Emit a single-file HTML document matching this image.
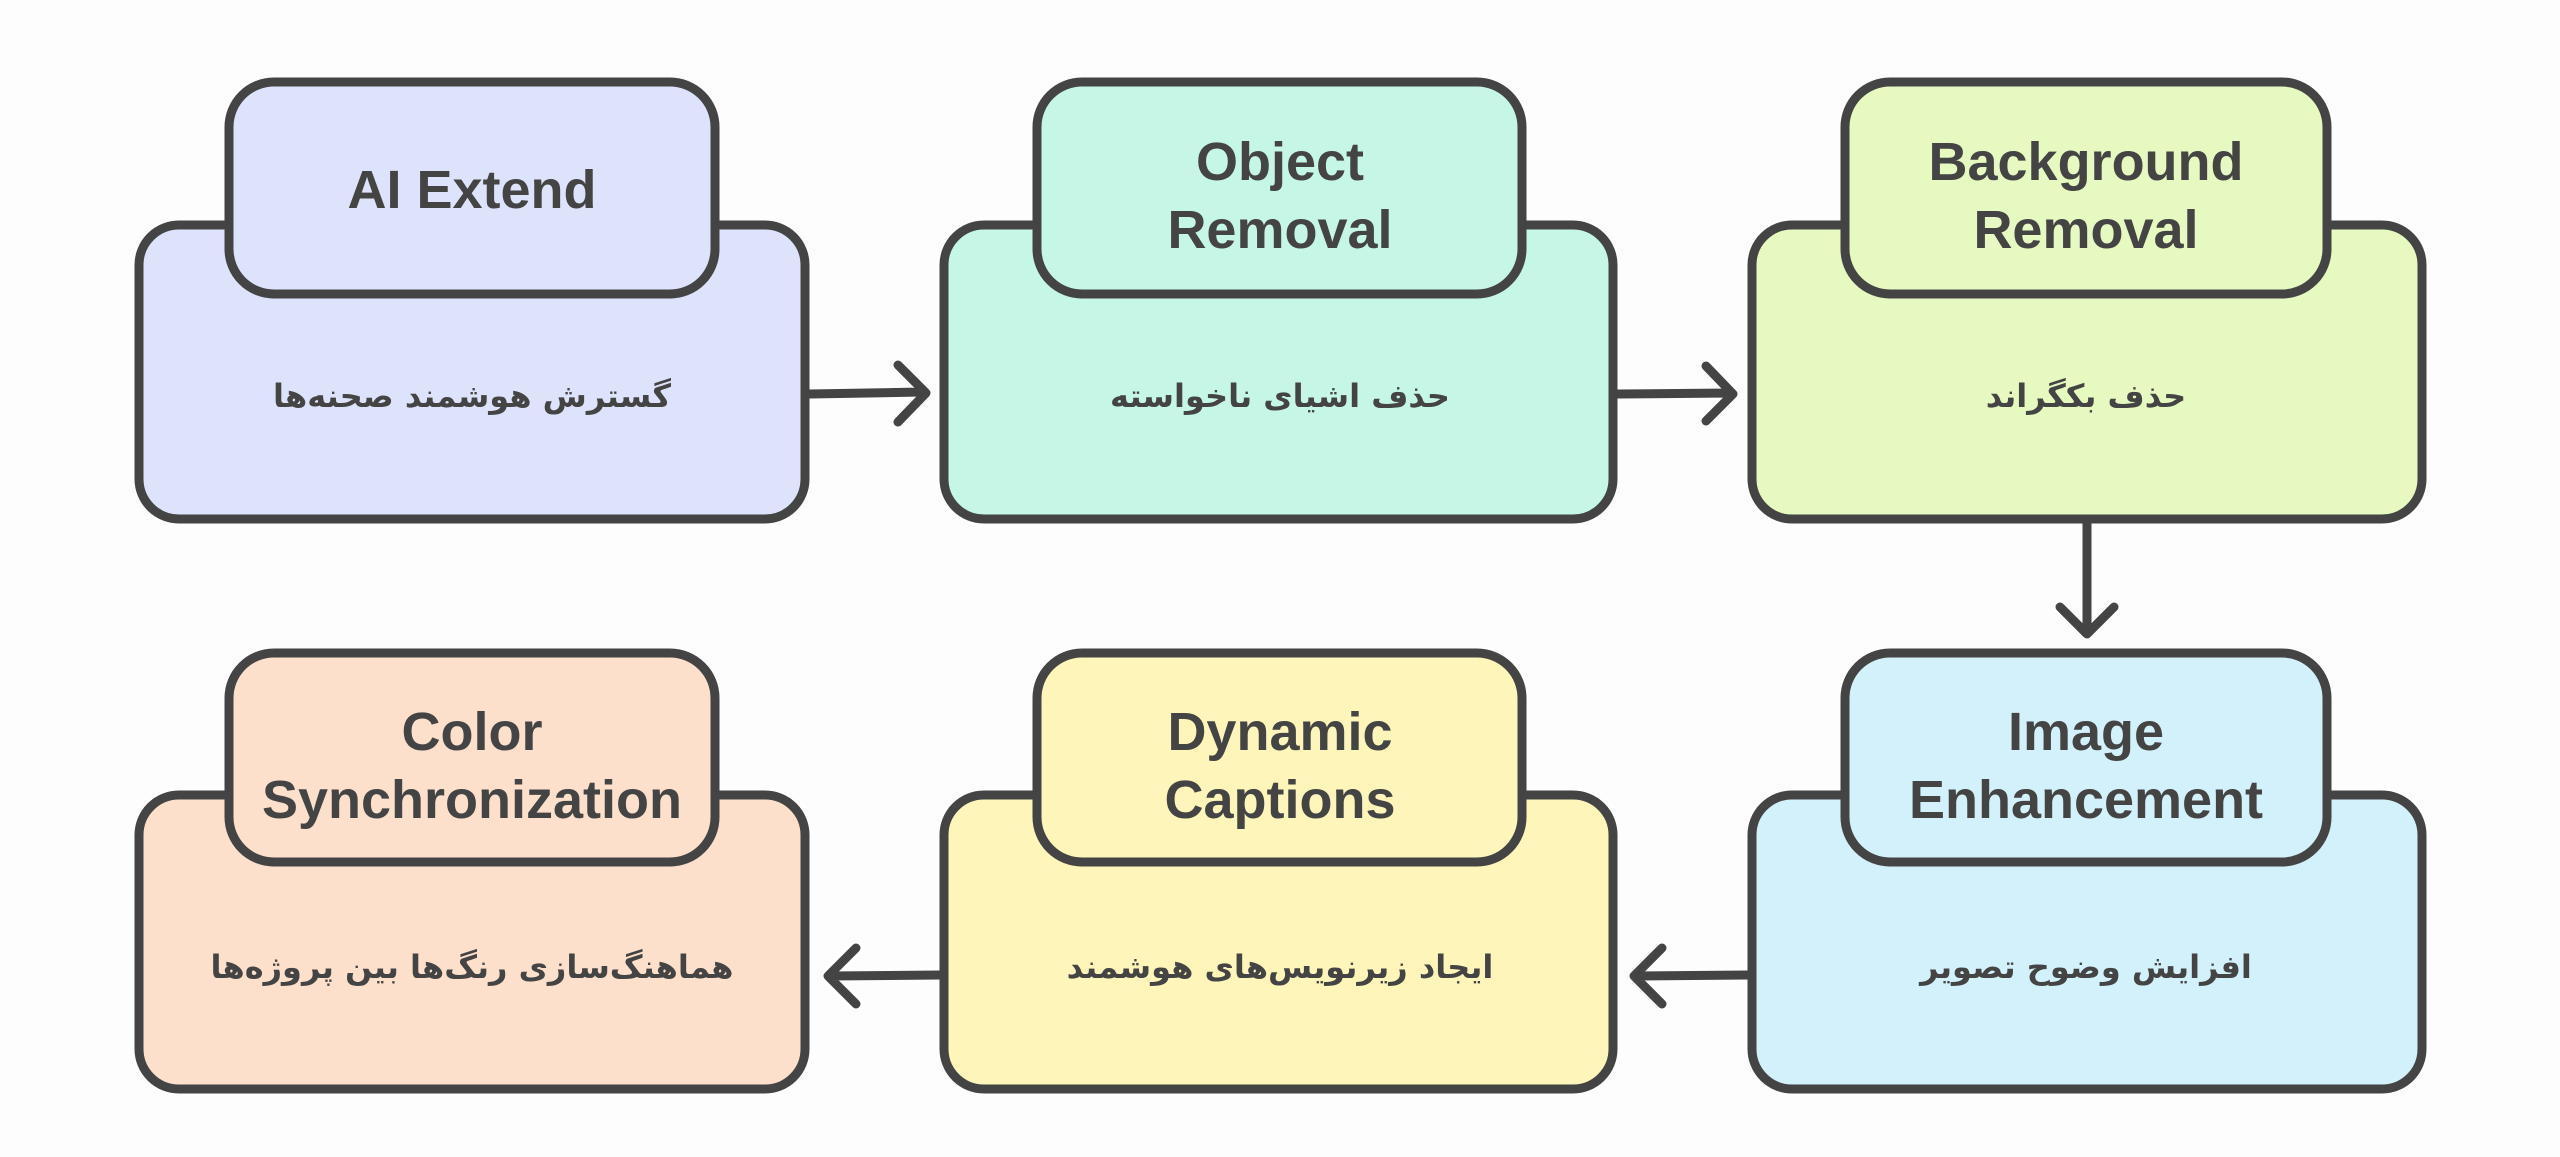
<!DOCTYPE html>
<html><head><meta charset="utf-8"><style>
html,body{margin:0;padding:0;background:#fdfdfd;}
svg{display:block}
.t{font-family:"Liberation Sans","DejaVu Sans",sans-serif;font-weight:bold;font-size:54px;fill:#444;text-anchor:middle}
.b{font-family:"DejaVu Sans","Liberation Sans","Noto Sans CJK SC",sans-serif;font-weight:bold;font-size:32px;fill:#444;text-anchor:middle}
.o{fill:none;stroke:#444;stroke-width:9;stroke-linecap:round;stroke-linejoin:round}
.h{stroke:#444;stroke-width:9;stroke-linejoin:round}
</style></head><body>
<svg width="2560" height="1157" viewBox="0 0 2560 1157" xmlns="http://www.w3.org/2000/svg">
<!-- Row 1 -->
<g>
<rect x="139" y="225" width="666" height="294" rx="40" style="fill:#dde3fa" class="h"/>
<rect x="229" y="82" width="486" height="212" rx="45" style="fill:#dde3fa" class="h"/>
<text class="t" x="472" y="208">AI Extend</text>
<text class="b" x="472" y="407" direction="rtl">گسترش هوشمند صحنه‌ها</text>
</g>
<g>
<rect x="944" y="225" width="669" height="294" rx="40" style="fill:#c6f6e6" class="h"/>
<rect x="1037" y="82" width="485" height="212" rx="45" style="fill:#c6f6e6" class="h"/>
<text class="t" x="1280" y="180">Object</text>
<text class="t" x="1280" y="248">Removal</text>
<text class="b" x="1280" y="407" direction="rtl">حذف اشیای ناخواسته</text>
</g>
<g>
<rect x="1752" y="225" width="670" height="294" rx="40" style="fill:#e6f9c0" class="h"/>
<rect x="1845" y="82" width="482" height="212" rx="45" style="fill:#e6f9c0" class="h"/>
<text class="t" x="2086" y="180">Background</text>
<text class="t" x="2086" y="248">Removal</text>
<text class="b" x="2086" y="407" direction="rtl">حذف بکگراند</text>
</g>
<!-- Row 2 -->
<g>
<rect x="139" y="795" width="666" height="294" rx="40" style="fill:#fde0cc" class="h"/>
<rect x="229" y="653" width="486" height="209" rx="45" style="fill:#fde0cc" class="h"/>
<text class="t" x="472" y="750">Color</text>
<text class="t" x="472" y="818">Synchronization</text>
<text class="b" x="472" y="978" direction="rtl">هماهنگ‌سازی رنگ‌ها بین پروژه‌ها</text>
</g>
<g>
<rect x="944" y="795" width="669" height="294" rx="40" style="fill:#fdf5b9" class="h"/>
<rect x="1037" y="653" width="485" height="209" rx="45" style="fill:#fdf5b9" class="h"/>
<text class="t" x="1280" y="750">Dynamic</text>
<text class="t" x="1280" y="818">Captions</text>
<text class="b" x="1280" y="978" direction="rtl">ایجاد زیرنویس‌های هوشمند</text>
</g>
<g>
<rect x="1752" y="795" width="670" height="294" rx="40" style="fill:#d3f1fb" class="h"/>
<rect x="1845" y="653" width="482" height="209" rx="45" style="fill:#d3f1fb" class="h"/>
<text class="t" x="2086" y="750">Image</text>
<text class="t" x="2086" y="818">Enhancement</text>
<text class="b" x="2086" y="978" direction="rtl">افزایش وضوح تصویر</text>
</g>
<!-- Arrows -->
<path class="o" d="M810 394 L922 392 M898 365 L926 393 L898 422"/>
<path class="o" d="M1618 394 L1730 393 M1706 366 L1733 394 L1706 421"/>
<path class="o" d="M2087 523 L2087 632 M2060 607 L2087 634 L2114 607"/>
<path class="o" d="M1748 975 L1636 976 M1662 948 L1634 976 L1662 1004"/>
<path class="o" d="M940 975 L830 976 M856 948 L828 976 L856 1004"/>
</svg>
</body></html>
